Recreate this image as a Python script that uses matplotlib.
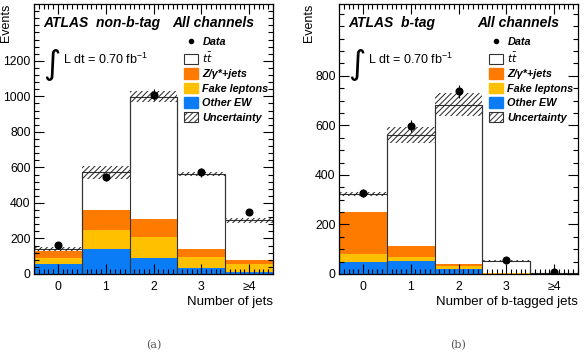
import numpy as np
import matplotlib.pyplot as plt
from matplotlib.patches import Patch
from matplotlib.lines import Line2D

plt.rcParams['font.family'] = ['Liberation Sans', 'DejaVu Sans']
plt.rcParams['hatch.linewidth'] = 0.7

tick_labels = ["0", "1", "2", "3", "≥4"]

# non-b-tag, number of jets
a_other = [57, 143, 92, 34, 13]
a_fake = [32, 102, 116, 60, 44]
a_zjets = [41, 117, 101, 46, 20]
a_ttbar = [11, 210, 689, 422, 225]
a_unc = [10, 37, 30, 11, 14]
a_data = [162, 547, 1009, 572, 349]
a_err = [13, 23, 32, 24, 19]

# b-tag, number of b-tagged jets
b_other = [50, 51, 22, 1, 0.5]
b_fake = [31, 18, 9, 2, 0.5]
b_zjets = [170, 45, 8, 1, 0.5]
b_ttbar = [73, 448, 645, 50, 1.5]
b_unc = [8, 32, 45, 4, 1]
b_data = [327, 596, 738, 55, 9]
b_err = [18, 24, 27, 7, 3]

c_z = "#ff7b00"
c_fake = "#ffc000"
c_ew = "#0a7cf5"


def panel(ax, other, fake, zjets, ttbar, unc, data, err, ymax, yticks, ystep,
          xlabel, tag, caption):
    x = np.arange(len(other))
    edges = np.arange(len(other) + 1) - 0.5
    bottom = np.zeros(len(other))
    for vals, col in [(other, c_ew), (fake, c_fake), (zjets, c_z)]:
        ax.bar(x, vals, width=1.0, bottom=bottom, color=col, lw=0)
        bottom = bottom + np.array(vals)
    total = bottom + np.array(ttbar)
    ax.stairs(total, edges, color="#333333", lw=0.8, baseline=None)
    for i in range(len(x)):
        ax.vlines(edges[i], 0, max(total[i], total[i - 1] if i else 0),
                  color="#333333", lw=0.8)
    ax.bar(x, 2 * np.array(unc), width=1.0, bottom=total - np.array(unc),
           fill=False, hatch="//////", lw=0, edgecolor="#222222")
    ax.errorbar(x, data, yerr=err, fmt="o", color="black", ms=4.8,
                elinewidth=0.8, capsize=0)

    ax.set_xlim(-0.5, len(x) - 0.5)
    ax.set_ylim(0, ymax)
    ax.set_xticks(x)
    ax.set_xticklabels(tick_labels, fontsize=8.8)
    ax.set_xticks(np.arange(-0.5, 4.51, 0.1), minor=True)
    ax.set_yticks(yticks)
    ax.set_yticklabels([str(t) for t in yticks], fontsize=8.8)
    ax.set_yticks(np.arange(0, ymax, ystep), minor=True)
    ax.tick_params(which="both", direction="in", top=True, right=True,
                   width=0.8)
    ax.tick_params(which="major", length=7)
    ax.tick_params(which="minor", length=3.5)
    ax.tick_params(axis="y", pad=2.5)
    ax.tick_params(axis="x", pad=5)
    for s in ax.spines.values():
        s.set_linewidth(0.9)

    ax.set_xlabel(xlabel, fontsize=9.5, loc="right", labelpad=2)
    ax.set_ylabel("Events", fontsize=9, loc="top")

    ax.text(0.04, 0.93, tag, transform=ax.transAxes, fontsize=10,
            fontweight="bold", fontstyle="italic", va="center")
    ax.text(0.58, 0.93, "All channels", transform=ax.transAxes, fontsize=10,
            fontweight="bold", fontstyle="italic", va="center")
    ax.text(0.04, 0.775, "∫", transform=ax.transAxes, fontsize=24,
            va="center", family="DejaVu Sans")
    ax.text(0.12, 0.795, "L dt = 0.70 fb$^{\\mathregular{-1}}$",
            transform=ax.transAxes, fontsize=9, va="center")

    handles = [
        Line2D([], [], marker="o", color="black", ls="none", ms=3),
        Patch(facecolor="white", edgecolor="#333333", lw=0.8),
        Patch(facecolor=c_z, edgecolor=c_z),
        Patch(facecolor=c_fake, edgecolor=c_fake),
        Patch(facecolor=c_ew, edgecolor=c_ew),
        Patch(facecolor="white", edgecolor="#333333", hatch="//////", lw=0.8),
    ]
    labels = ["Data", "$t\\bar{t}$", "Z/γ*+jets", "Fake leptons",
              "Other EW", "Uncertainty"]
    ax.legend(handles, labels, loc="upper left",
              bbox_to_anchor=(0.6, 0.905), frameon=False,
              prop=dict(size=7.8, weight="bold", style="italic"),
              handlelength=1.3, handleheight=1.1, handletextpad=0.4,
              labelspacing=0.33, borderpad=0.1)
    ax.text(0.5, -0.263, caption, transform=ax.transAxes, fontsize=8,
            family="DejaVu Serif", color="#555555", ha="center", va="center")


fig = plt.figure(figsize=(5.85, 3.59), dpi=100)
ax1 = fig.add_axes([34 / 585, 85 / 359, 239 / 585, 270 / 359])
ax2 = fig.add_axes([339 / 585, 85 / 359, 239 / 585, 270 / 359])

panel(ax1, a_other, a_fake, a_zjets, a_ttbar, a_unc, a_data, a_err, 1520,
      [0, 200, 400, 600, 800, 1000, 1200], 40, "Number of jets",
      "ATLAS  non-b-tag", "(a)")
panel(ax2, b_other, b_fake, b_zjets, b_ttbar, b_unc, b_data, b_err, 1090,
      [0, 200, 400, 600, 800], 50, "Number of b-tagged jets",
      "ATLAS  b-tag", "(b)")
ax1.yaxis.set_label_coords(-22 / 239, 1.0)
ax2.yaxis.set_label_coords(-24 / 239, 1.0)

fig.savefig("out.png", dpi=100)
